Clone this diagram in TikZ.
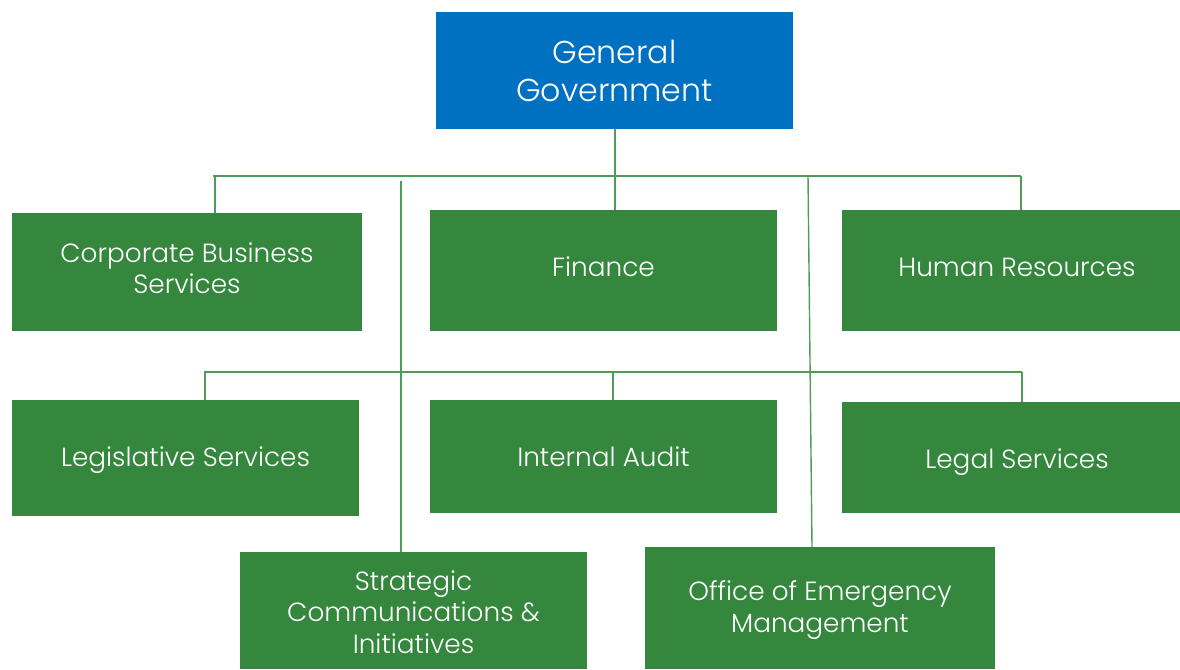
\documentclass[tikz,border=0pt]{standalone}
\usepackage{fontspec}
\setmainfont{Poppins}[UprightFont=* Light]
\definecolor{gblue}{HTML}{0070C0}
\definecolor{ggreen}{HTML}{35873E}
\definecolor{lgreen}{HTML}{4E9C58}
\begin{document}
\begin{tikzpicture}[x=1pt,y=-1pt,
  box/.style={fill=ggreen,inner sep=0pt},
  lbl/.style={text=white,inner sep=0pt,align=center,
    font=\fontsize{26.3}{31.5}\selectfont},
  topbox/.style={fill=gblue,text=white,inner sep=0pt,align=center,
    font=\fontsize{31.6}{38}\selectfont},
  conn/.style={draw=lgreen,line width=1.4pt}]
\path[use as bounding box] (0,0) rectangle (1180,669);
\node[topbox,minimum width=357pt,minimum height=117pt] (gg) at (614.5,70.5) {General\\Government};
\node[box,minimum width=350pt,minimum height=118pt,
  label={[lbl,yshift=4pt]center:Corporate Business\\Services}] (cbs) at (187,272) {};
\node[box,minimum width=347pt,minimum height=121pt,
  label={[lbl,yshift=4pt]center:Finance}] (fin) at (603.5,270.5) {};
\node[box,minimum width=338pt,minimum height=121pt,
  label={[lbl,xshift=6pt,yshift=3pt]center:Human Resources}] (hr) at (1011,270.5) {};
\node[box,minimum width=347pt,minimum height=116pt,
  label={[lbl,yshift=-2pt]center:Legislative Services}] (leg) at (185.5,458) {};
\node[box,minimum width=347pt,minimum height=113pt,
  label={[lbl]center:Internal Audit}] (ia) at (603.5,456.5) {};
\node[box,minimum width=338pt,minimum height=111pt,
  label={[lbl,xshift=6pt,yshift=-5pt]center:Legal Services}] (legal) at (1011,457.5) {};
\node[box,minimum width=347pt,minimum height=117pt,
  label={[lbl,yshift=-1.5pt]center:Strategic\\Communications \&\\Initiatives}] (sci) at (413.5,610.5) {};
\node[box,minimum width=350pt,minimum height=122pt,
  label={[lbl,yshift=-2pt]center:Office of Emergency\\Management}] (oem) at (820,608) {};
% top bus
\coordinate (t0) at (213,176);
\coordinate (t1) at (615,176);
\coordinate (t2) at (808,176);
\coordinate (t3) at (1021,176);
\coordinate (s0) at (401,181);
\draw[conn] (gg.south -| t1) -- (t1);
\draw[conn] (t0) -- (t3);
\draw[conn] (215,176) -- (215,176 |- cbs.north);
\draw[conn] (t1) -- (t1 |- fin.north);
\draw[conn] (t3) -- (t3 |- hr.north);
\draw[conn] (s0) -- (s0 |- sci.north);
\draw[conn] (t2) -- ([xshift=-8pt]oem.north);
% second bus
\coordinate (m0) at (204,372);
\coordinate (m1) at (613,372);
\coordinate (m2) at (1022,372);
\draw[conn] (m0) -- (m2);
\draw[conn] (205,372) -- (205,372 |- leg.north);
\draw[conn] (m1) -- (m1 |- ia.north);
\draw[conn] (m2) -- (m2 |- legal.north);
\end{tikzpicture}
\end{document}
